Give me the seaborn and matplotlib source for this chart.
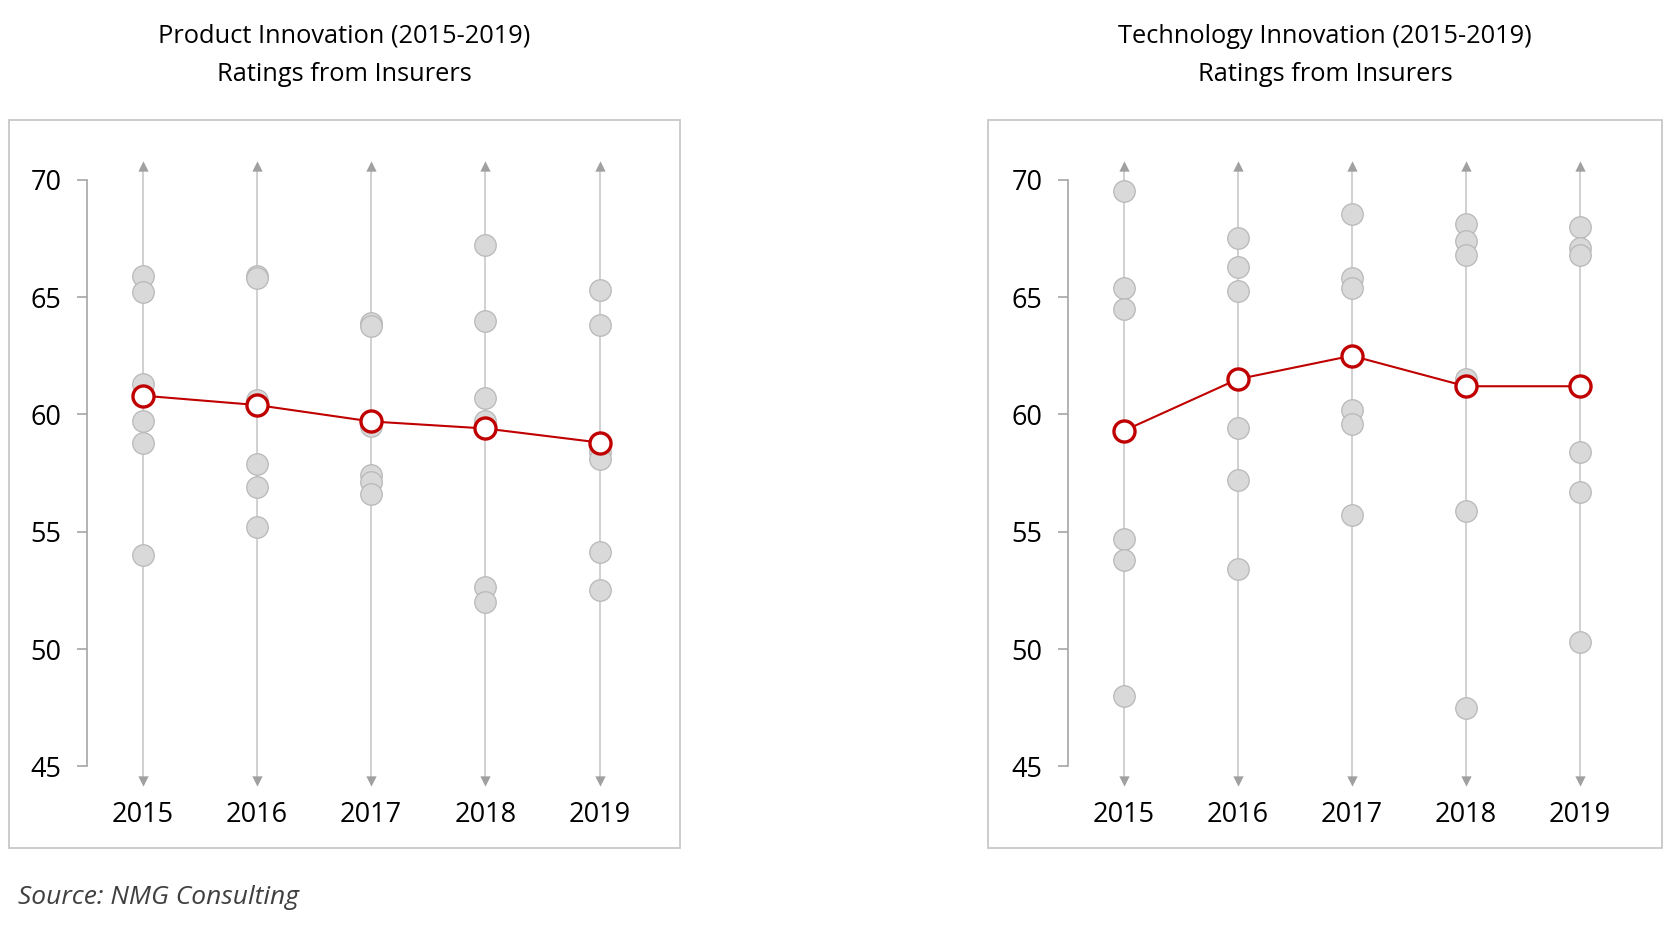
import matplotlib
matplotlib.use("Agg")
import matplotlib.pyplot as plt
from matplotlib.patches import Rectangle
import seaborn as sns
import pandas as pd
import numpy as np

years = ["2015", "2016", "2017", "2018", "2019"]

# Product Innovation ratings (6 insurers per year)
product_2015 = [65.9, 65.2, 61.3, 59.7, 58.8, 54.0]
product_2016 = [65.9, 65.8, 60.6, 57.9, 56.9, 55.2]
product_2017 = [63.9, 63.75, 59.5, 57.4, 57.1, 56.6]
product_2018 = [67.2, 64.0, 60.7, 59.7, 52.65, 52.0]
product_2019 = [65.3, 63.8, 58.4, 58.1, 54.15, 52.5]
product_mean = [60.8, 60.4, 59.7, 59.4, 58.8]

# Technology Innovation ratings
tech_2015 = [69.5, 65.4, 64.5, 54.7, 53.8, 48.0]
tech_2016 = [67.5, 66.3, 65.25, 59.4, 57.2, 53.4]
tech_2017 = [68.55, 65.8, 65.4, 60.2, 59.6, 55.7]
tech_2018 = [68.1, 67.4, 66.8, 61.5, 55.9, 47.5]
tech_2019 = [68.0, 67.1, 66.8, 58.4, 56.7, 50.3]
tech_mean = [59.3, 61.5, 62.5, 61.2, 61.2]

yticks = [45, 50, 55, 60, 65, 70]

titles = ["Product Innovation (2015-2019)\nRatings from Insurers",
          "Technology Innovation (2015-2019)\nRatings from Insurers"]
source_text = "Source: NMG Consulting"

sns.set_theme(style="white")
plt.rcParams['font.family'] = ['Open Sans', 'DejaVu Sans']

W, H = 1667, 931
fig = plt.figure(figsize=(W / 100, H / 100), dpi=100)

def build_df(groups):
    rows = []
    for i, vals in enumerate(groups):
        for v in vals:
            rows.append({"x": i, "value": v})
    return pd.DataFrame(rows)

panels = [
    ([product_2015, product_2016, product_2017, product_2018, product_2019], product_mean),
    ([tech_2015, tech_2016, tech_2017, tech_2018, tech_2019], tech_mean),
]

axes_pos = [
    [86.5 / W, 0.1515, 570.4 / W, 0.6807],
    [1067.8 / W, 0.1515, 568.9 / W, 0.6807],
]
boxes = [(8.5, 120, 680, 848), (988, 120, 1662, 848)]
title_x = [344, 1325]

for k, (groups, means) in enumerate(panels):
    # panel frame
    x0, y0, x1, y1 = boxes[k]
    fig.patches.append(Rectangle((x0 / W, 1 - y1 / H), (x1 - x0) / W, (y1 - y0) / H,
                                 transform=fig.transFigure, fill=False,
                                 edgecolor="#c8c8c8", linewidth=1.3, zorder=0))
    fig.text(title_x[k] / W, 1 - 55.5 / H, titles[k], ha="center", va="center",
             fontsize=18.3, color="#000000", linespacing=1.7)

    ax = fig.add_axes(axes_pos[k])
    ax.set_facecolor("none")
    xs = np.arange(len(years))
    # vertical guide lines with arrow heads
    ax.vlines(xs, 44.5, 70.5, color="#c4c4c4", linewidth=1.1, zorder=1)
    ax.scatter(xs, [70.6] * len(xs), marker="^", s=55, color="#a0a0a0", zorder=1, linewidths=0)
    ax.scatter(xs, [44.4] * len(xs), marker="v", s=55, color="#a0a0a0", zorder=1, linewidths=0)

    df = build_df(groups)
    sns.scatterplot(data=df, x="x", y="value", ax=ax, s=240, color="#d9d9d9",
                    edgecolor="#b8b8b8", linewidth=0.9, zorder=2, legend=False)
    mdf = pd.DataFrame({"x": xs, "value": means})
    sns.lineplot(data=mdf, x="x", y="value", ax=ax, color="#c00000", linewidth=1.5,
                 zorder=3, legend=False)
    ax.scatter(xs, means, s=230, facecolor="white", edgecolor="#c00000",
               linewidths=2.4, zorder=4)

    ax.set_xlim(-0.49, 4.5)
    ax.set_ylim(44, 71)
    ax.set_xticks(xs)
    ax.set_xticklabels(years, fontsize=19.5)
    ax.set_yticks(yticks)
    ax.set_yticklabels([str(t) for t in yticks], fontsize=19.5)
    ax.set_xlabel("")
    ax.set_ylabel("")
    for s in ["top", "right", "bottom"]:
        ax.spines[s].set_visible(False)
    ax.spines["left"].set_bounds(45, 70)
    ax.spines["left"].set_color("#a6a6a6")
    ax.spines["left"].set_linewidth(1.2)
    ax.tick_params(axis="y", which="both", left=True, length=7, width=1.2,
                   color="#a6a6a6", pad=11, labelcolor="#000000")
    ax.tick_params(axis="x", bottom=False, pad=2, labelcolor="#000000")

fig.text(18 / W, 1 - 898 / H, source_text, ha="left", va="center", fontsize=19,
         style="italic", color="#404040")

fig.savefig("out.png", dpi=100)
